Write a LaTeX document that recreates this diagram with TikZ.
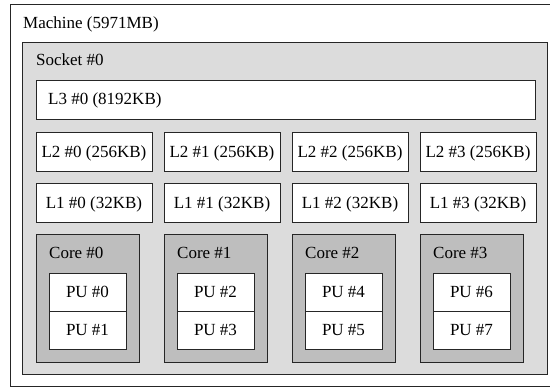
\documentclass[tikz,border=0pt]{standalone}
\usepackage{fontspec}
\setmainfont{Liberation Serif}
\definecolor{socketgray}{HTML}{DCDCDC}
\definecolor{coregray}{HTML}{BEBEBE}
\tikzset{
  box/.style={draw=black!85, line width=.9pt, inner sep=0pt, outer sep=0pt, anchor=north west},
  machinebox/.style={box, fill=white},
  socketbox/.style={box, fill=socketgray},
  cachebox/.style={box, fill=white, minimum width=116pt, minimum height=39pt,
    text height=11.2pt, text depth=0pt},
  corebox/.style={box, fill=coregray, minimum width=103pt, minimum height=128pt},
  pubox/.style={box, fill=white, minimum width=77pt, minimum height=38pt,
    text height=11.2pt, text depth=0pt},
  tag/.style={inner sep=0pt, anchor=base west}
}

\begin{document}
\begin{tikzpicture}[x=1pt, y=-1pt, font=\fontsize{17}{20}\selectfont]
\clip (0,0) rectangle (550,388);
\node[machinebox, minimum width=545pt, minimum height=382.5pt] (machine) at (10.5,4) {};
\node[tag] (nmachine) at (23,28.5) {Machine (5971MB)};
\node[socketbox, minimum width=524.5pt, minimum height=332.5pt] (socket) at (22.5,42) {};
\node[tag] (nsocket) at (36,65.5) {Socket \#0};
%
% caches
%
\node[cachebox, minimum width=499pt] (lthree) at (36,80) {};
\node[tag] (nlthree) at (48,104.5) {L3 \#0 (8192KB)};
\node[cachebox] (ltwoa) at (36,132) {L2 \#0 (256KB)};
\node[cachebox] (ltwob) at (164,132) {L2 \#1 (256KB)};
\node[cachebox] (ltwoc) at (292,132) {L2 \#2 (256KB)};
\node[cachebox] (ltwod) at (420,132) {L2 \#3 (256KB)};
\node[cachebox] (lonea) at (36,183) {L1 \#0 (32KB)};
\node[cachebox] (loneb) at (164,183) {L1 \#1 (32KB)};
\node[cachebox] (lonec) at (292,183) {L1 \#2 (32KB)};
\node[cachebox] (loned) at (420,183) {L1 \#3 (32KB)};
%
% cores
%
\node[corebox] (corea) at (36,234) {};
\node[tag] (ncorea) at (49,258.5) {Core \#0};
\node[corebox] (coreb) at (164,234) {};
\node[tag] (ncoreb) at (177,258.5) {Core \#1};
\node[corebox] (corec) at (292,234) {};
\node[tag] (ncorec) at (305,258.5) {Core \#2};
\node[corebox] (cored) at (420,234) {};
\node[tag] (ncored) at (433,258.5) {Core \#3};
%
% processing units
%
\node[pubox] (pua) at (49,273) {PU \#0};
\node[pubox] (pub) at (49,311) {PU \#1};
\node[pubox] (puc) at (177,273) {PU \#2};
\node[pubox] (pud) at (177,311) {PU \#3};
\node[pubox] (pue) at (305,273) {PU \#4};
\node[pubox] (puf) at (305,311) {PU \#5};
\node[pubox] (pug) at (433,273) {PU \#6};
\node[pubox] (puh) at (433,311) {PU \#7};
\end{tikzpicture}
\end{document}
